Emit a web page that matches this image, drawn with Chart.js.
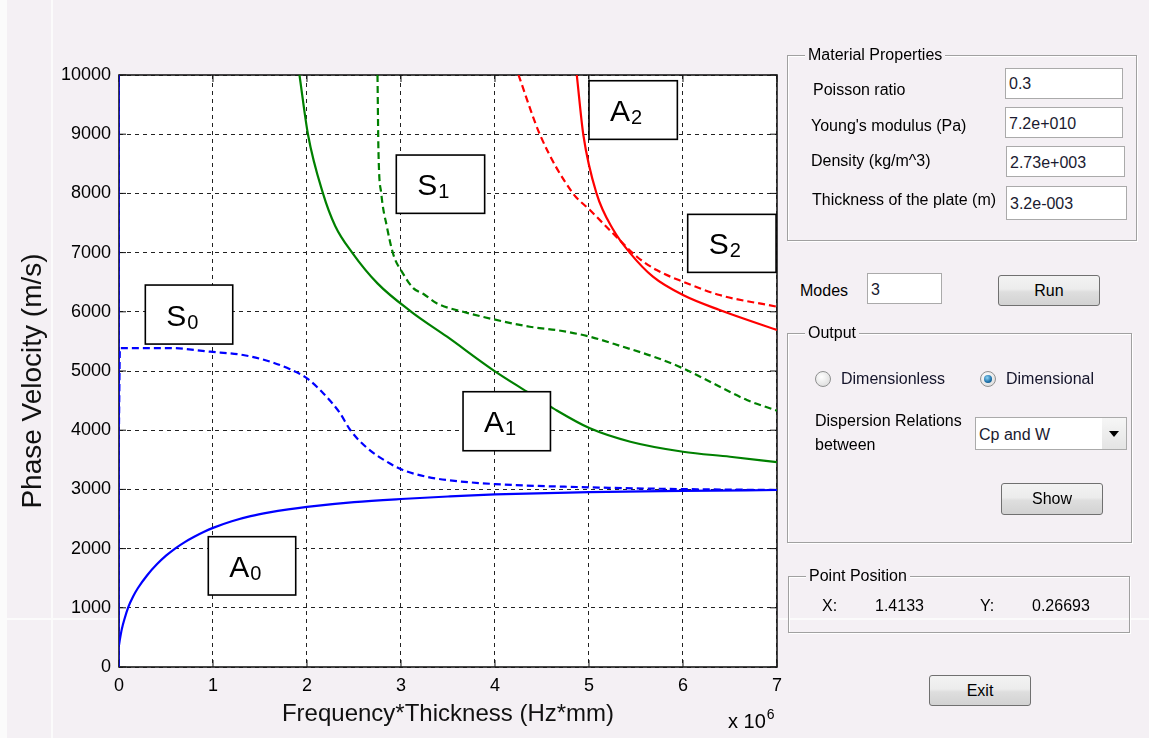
<!DOCTYPE html>
<html>
<head>
<meta charset="utf-8">
<script src="https://cdn.jsdelivr.net/npm/chart.js@4/dist/chart.umd.min.js"></script>
<style>
body { margin:0; width:1149px; height:738px; background:#f4f0f4; font-family:"Liberation Sans", Arial, sans-serif; position:relative; overflow:hidden; color:#000; }
#plot { position:absolute; left:0; top:0; }
.abs { position:absolute; font-size:16px; line-height:18px; white-space:nowrap; }
.group { position:absolute; border:1px solid #a0a0a0; box-shadow: inset 1px 1px 0 #fff, 1px 1px 0 #fff; }
.group .title { position:absolute; top:-10px; left:17px; background:#f4f0f4; padding:0 3px; font-size:16px; line-height:18px; }
.edit { position:absolute; background:#fff; border:1px solid #aaa; box-sizing:border-box; font-size:16px; color:#1a1a30; padding-left:3px; }
.btn { position:absolute; box-sizing:border-box; border:1px solid #707070; border-radius:3px;
  background:linear-gradient(#f3f3f3, #ececec 45%, #dedede 55%, #d2d2d2); font-size:16px; text-align:center; }
.radio { position:absolute; width:16px; height:16px; border-radius:50%; border:1px solid #8e8f8f; box-sizing:border-box;
  background:radial-gradient(circle at 40% 35%, #fff, #d6d6d6); }
.radio.on::after { content:""; position:absolute; left:3px; top:3px; width:8px; height:8px; border-radius:50%;
  background:radial-gradient(circle at 40% 35%, #8fd4f5, #1b6fa8 60%, #0b3f66); }
.line { position:absolute; background:#fbfbfb; }
</style>
</head>
<body>
<div class="line" style="left:0;top:0;width:7px;height:738px;"></div>
<div class="line" style="left:51px;top:0;width:2px;height:738px;"></div>
<div class="line" style="left:0;top:618px;width:1149px;height:2px;"></div>

<canvas id="plot" width="790" height="738"></canvas>

<div class="abs" style="left:728px;top:710px;font-size:20px;line-height:22px;">x 10<span style="position:relative;top:-9px;font-size:14px;margin-left:1px;">6</span></div>

<!-- Material Properties -->
<div class="group" style="left:787px;top:55px;width:348px;height:184px;"><span class="title">Material Properties</span></div>
<div class="abs" style="left:813px;top:81px;">Poisson ratio</div>
<div class="abs" style="left:811px;top:117px;">Young's modulus (Pa)</div>
<div class="abs" style="left:811px;top:152px;">Density (kg/m^3)</div>
<div class="abs" style="left:812px;top:191px;">Thickness of the plate (m)</div>
<div class="edit" style="left:1005px;top:68px;width:118px;height:31px;line-height:30px;">0.3</div>
<div class="edit" style="left:1005px;top:107px;width:118px;height:31px;line-height:31px;">7.2e+010</div>
<div class="edit" style="left:1006px;top:146px;width:119px;height:31px;line-height:31px;">2.73e+003</div>
<div class="edit" style="left:1006px;top:186px;width:121px;height:34px;line-height:34px;">3.2e-003</div>

<!-- Modes / Run -->
<div class="abs" style="left:800px;top:282px;">Modes</div>
<div class="edit" style="left:867px;top:273px;width:75px;height:31px;line-height:31px;">3</div>
<div class="btn" style="left:998px;top:275px;width:102px;height:31px;line-height:29px;">Run</div>

<!-- Output -->
<div class="group" style="left:787px;top:333px;width:343px;height:208px;"><span class="title">Output</span></div>
<div class="radio" style="left:815px;top:371px;"></div>
<div class="abs" style="left:841px;top:370px;color:#14142a;">Dimensionless</div>
<div class="radio on" style="left:980px;top:371px;"></div>
<div class="abs" style="left:1006px;top:370px;color:#14142a;">Dimensional</div>
<div class="abs" style="left:815px;top:412px;">Dispersion Relations</div>
<div class="abs" style="left:815px;top:436px;">between</div>
<div class="edit" style="left:975px;top:417px;width:152px;height:33px;line-height:33px;color:#1a1a30;">Cp and W
  <div style="position:absolute;right:0;top:0;width:24px;height:31px;background:linear-gradient(#f6f6f6,#e4e4e4);"></div>
  <div style="position:absolute;right:7px;top:13px;width:0;height:0;border-left:5px solid transparent;border-right:5px solid transparent;border-top:6px solid #000;"></div>
</div>
<div class="btn" style="left:1001px;top:483px;width:102px;height:32px;line-height:30px;">Show</div>

<!-- Point Position -->
<div class="group" style="left:788px;top:576px;width:340px;height:55px;"><span class="title">Point Position</span></div>
<div class="abs" style="left:822px;top:597px;">X:</div>
<div class="abs" style="left:875px;top:597px;">1.4133</div>
<div class="abs" style="left:980px;top:597px;">Y:</div>
<div class="abs" style="left:1032px;top:597px;">0.26693</div>

<div class="btn" style="left:929px;top:675px;width:102px;height:31px;line-height:29px;">Exit</div>

<script>
// Courbes de dispersion (Frequency*Thickness x 10^6, vitesse de phase m/s)
const a0Freq = [0, 0.01, 0.03, 0.06, 0.1, 0.15, 0.2, 0.3, 0.4, 0.5, 0.6, 0.7, 0.8, 0.9, 1.0, 1.2, 1.4, 1.6, 1.8, 2.0, 2.5, 3.0, 3.5, 4.0, 5.0, 6.0, 7.0];
const a0Vel  = [370, 470, 640, 820, 1015, 1190, 1330, 1550, 1730, 1880, 2005, 2110, 2200, 2280, 2350, 2462, 2548, 2612, 2663, 2705, 2785, 2838, 2880, 2915, 2955, 2975, 2990];

const s0Freq = [0, 0.01, 0.54, 0.97, 1.32, 1.61, 1.82, 2.0, 2.17, 2.35, 2.46, 2.64, 2.85, 3.02, 3.27, 3.49, 4.0, 5.0, 6.0, 7.0];
const s0Vel  = [4100, 5385, 5388, 5326, 5270, 5157, 5028, 4876, 4628, 4290, 4003, 3699, 3468, 3327, 3214, 3158, 3090, 3035, 3005, 2990];

const a1Freq = [1.92, 2.01, 2.17, 2.3, 2.48, 2.75, 3.11, 3.49, 3.98, 4.34, 4.62, 5.01, 5.44, 6.0, 6.5, 7.0];
const a1Vel  = [10000, 9000, 8000, 7450, 7000, 6480, 6000, 5579, 5016, 4650, 4369, 4032, 3805, 3636, 3552, 3460];

const s1Freq = [2.75, 2.76, 2.79, 2.85, 2.92, 3.02, 3.13, 3.24, 3.38, 3.66, 3.98, 4.37, 4.7, 5.01, 5.36, 5.69, 6.0, 6.32, 6.68, 7.0];
const s1Vel  = [10000, 8732, 8000, 7437, 6960, 6650, 6400, 6300, 6143, 6001, 5875, 5748, 5680, 5579, 5410, 5241, 5045, 4792, 4510, 4330];

const a2Freq = [4.87, 4.94, 5.08, 5.26, 5.44, 5.68, 6.0, 6.39, 7.0];
const a2Vel  = [10000, 8986, 8000, 7381, 6987, 6593, 6283, 6030, 5692];

const s2Freq = [4.25, 4.48, 4.83, 5.01, 5.29, 5.51, 5.72, 6.0, 6.39, 7.0];
const s2Vel  = [10000, 8986, 8000, 7719, 7268, 6930, 6705, 6508, 6283, 6086];

// ligne bleue le long de f = 0
const axisFreq = [0, 0];
const axisVel  = [0, 10000];

const xTicks = [0, 1, 2, 3, 4, 5, 6, 7];
const yTicks = [0, 1000, 2000, 3000, 4000, 5000, 6000, 7000, 8000, 9000, 10000];

// étiquettes des modes (boîtes en coordonnées du graphique)
const modeLabels = [
    { name: 'S', sub: '0', f0: 0.28, f1: 1.21, v0: 5455, v1: 6452 },
    { name: 'A', sub: '0', f0: 0.95, f1: 1.88, v0: 1216, v1: 2201 },
    { name: 'S', sub: '1', f0: 2.95, f1: 3.89, v0: 7663, v1: 8648 },
    { name: 'A', sub: '1', f0: 3.66, f1: 4.59, v0: 3653, v1: 4650 },
    { name: 'A', sub: '2', f0: 5.0, f1: 5.94, v0: 8913, v1: 9903 },
    { name: 'S', sub: '2', f0: 6.05, f1: 6.99, v0: 6666, v1: 7646 }
];

const yTitle = 'Phase Velocity (m/s)';

function pts(fs, vs) {
    return fs.map((f, i) => ({ x: f, y: vs[i] }));
}

function mode(data, color, dashed) {
    return {
        data: data,
        borderColor: color,
        borderWidth: 2.2,
        borderDash: dashed ? [7, 4] : [],
        pointRadius: 0,
        fill: false,
        cubicInterpolationMode: 'monotone'
    };
}

const framePlugin = {
    id: 'frame',
    beforeDraw(chart) {
        const { ctx, chartArea: a } = chart;
        ctx.save();
        ctx.fillStyle = '#fff';
        ctx.fillRect(a.left, a.top, a.right - a.left, a.bottom - a.top);
        ctx.restore();
    },
    beforeDatasetsDraw(chart) {
        const { ctx, chartArea: a, scales } = chart;
        ctx.save();
        ctx.setLineDash([]);
        ctx.strokeStyle = '#111';
        ctx.lineWidth = 1;
        scales.x.ticks.forEach(t => {
            const px = scales.x.getPixelForValue(t.value);
            ctx.beginPath();
            ctx.moveTo(px, a.bottom); ctx.lineTo(px, a.bottom - 7);
            ctx.moveTo(px, a.top); ctx.lineTo(px, a.top + 7);
            ctx.stroke();
        });
        scales.y.ticks.forEach(t => {
            const py = scales.y.getPixelForValue(t.value);
            ctx.beginPath();
            ctx.moveTo(a.left, py); ctx.lineTo(a.left + 7, py);
            ctx.moveTo(a.right, py); ctx.lineTo(a.right - 7, py);
            ctx.stroke();
        });
        ctx.lineWidth = 1.6;
        ctx.strokeStyle = '#1a1a1a';
        ctx.strokeRect(a.left, a.top, a.right - a.left, a.bottom - a.top);
        ctx.restore();
    },
    afterDatasetsDraw(chart) {
        const { ctx, scales } = chart;
        ctx.save();
        ctx.setLineDash([]);
        modeLabels.forEach(l => {
            const x0 = scales.x.getPixelForValue(l.f0);
            const x1 = scales.x.getPixelForValue(l.f1);
            const y0 = scales.y.getPixelForValue(l.v1);
            const y1 = scales.y.getPixelForValue(l.v0);
            ctx.fillStyle = '#fff';
            ctx.fillRect(x0, y0, x1 - x0, y1 - y0);
            ctx.strokeStyle = '#000';
            ctx.lineWidth = 1.6;
            ctx.strokeRect(x0, y0, x1 - x0, y1 - y0);
            const cy = (y0 + y1) / 2;
            ctx.fillStyle = '#000';
            ctx.textBaseline = 'alphabetic';
            ctx.font = '30px "Liberation Sans", Arial, sans-serif';
            ctx.fillText(l.name, x0 + 21, cy + 11);
            const w = ctx.measureText(l.name).width;
            ctx.font = '20px "Liberation Sans", Arial, sans-serif';
            ctx.fillText(l.sub, x0 + 21 + w + 1, cy + 14);
        });
        // titre de l'axe y
        ctx.translate(33, 381);
        ctx.rotate(-Math.PI / 2);
        ctx.font = '28px "Liberation Sans", Arial, sans-serif';
        ctx.fillStyle = '#111';
        ctx.textAlign = 'center';
        ctx.textBaseline = 'middle';
        ctx.fillText(yTitle, 0, 0);
        ctx.restore();
    }
};

const tickFont = { family: '"Liberation Sans", Arial, sans-serif', size: 18 };

new Chart(document.getElementById('plot').getContext('2d'), {
    type: 'line',
    data: {
        datasets: [
            { data: pts(axisFreq, axisVel), borderColor: '#0000ff', borderWidth: 1.5, pointRadius: 0, tension: 0 },
            mode(pts(a0Freq, a0Vel), '#0000ff', false),
            mode(pts(s0Freq, s0Vel), '#0000ff', true),
            mode(pts(a1Freq, a1Vel), '#008000', false),
            mode(pts(s1Freq, s1Vel), '#008000', true),
            mode(pts(a2Freq, a2Vel), '#ff0000', false),
            mode(pts(s2Freq, s2Vel), '#ff0000', true)
        ]
    },
    options: {
        responsive: false,
        animation: false,
        layout: { padding: { top: 75, right: 13, left: 0, bottom: 0 } },
        plugins: { legend: { display: false }, tooltip: { enabled: false } },
        scales: {
            x: {
                type: 'linear', min: 0, max: 7,
                afterFit: s => { s.height = 71; },
                afterBuildTicks: s => { s.ticks = xTicks.map(v => ({ value: v })); },
                ticks: { font: tickFont, color: '#000', padding: 8 },
                grid: { color: '#222', lineWidth: 1, drawTicks: false },
                border: { display: false, dash: [4, 4] },
                title: { display: true, text: 'Frequency*Thickness (Hz*mm)', color: '#111',
                         font: { family: '"Liberation Sans", Arial, sans-serif', size: 24 }, padding: { top: 0, bottom: 9 } }
            },
            y: {
                min: 0, max: 10000,
                afterFit: s => { s.width = 119; },
                afterBuildTicks: s => { s.ticks = yTicks.map(v => ({ value: v })); },
                ticks: { font: tickFont, color: '#000', padding: 8, callback: v => String(v) },
                grid: { color: '#222', lineWidth: 1, drawTicks: false },
                border: { display: false, dash: [4, 4] },
                title: { display: false }
            }
        }
    },
    plugins: [framePlugin]
});
</script>
</body>
</html>
